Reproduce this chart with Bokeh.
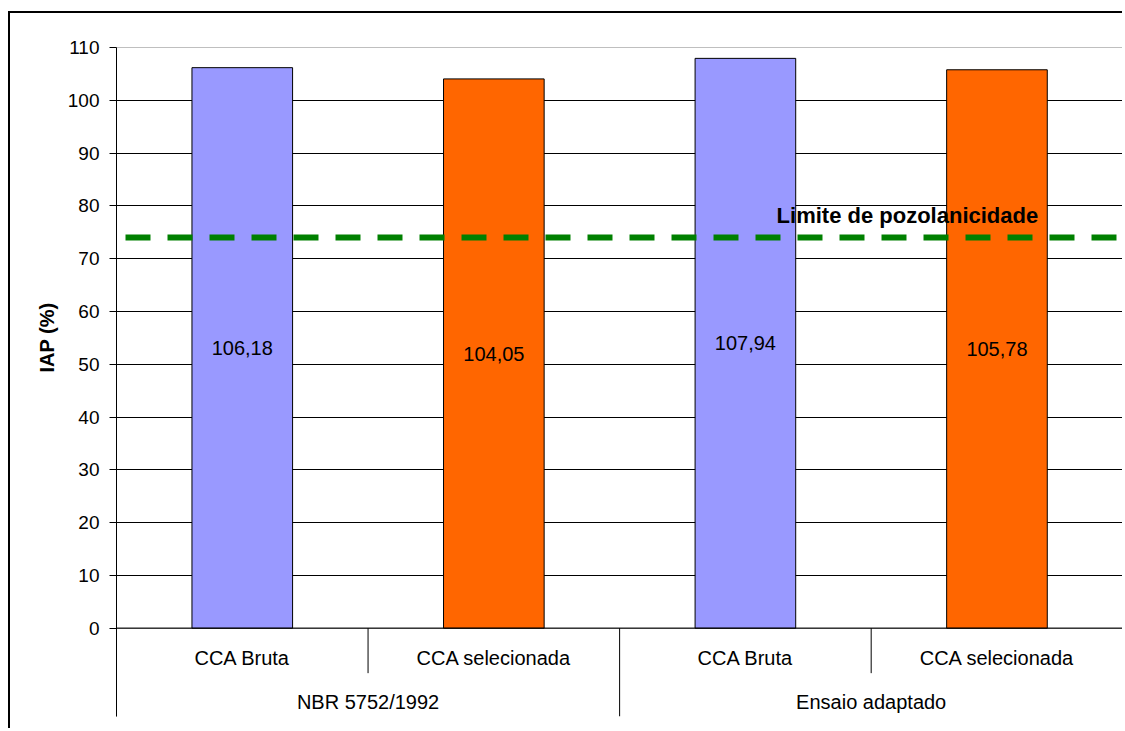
import numpy as np
from bokeh.plotting import figure
from bokeh.models import Range1d, FixedTicker, Span, Label, ColumnDataSource, Title
from bokeh.core.properties import value
from bokeh.embed import file_html
from bokeh.resources import INLINE

# ---- data ----
groups = ["NBR 5752/1992", "Ensaio adaptado"]
subcats = ["CCA Bruta", "CCA selecionada"]
iap_values = [106.18, 104.05, 107.94, 105.78]
bar_colors = ["#9999FF", "#FF6600", "#9999FF", "#FF6600"]
limit_value = 74
limit_text = "Limite de pozolanicidade"
y_ticks = list(range(0, 111, 10))
y_label = "IAP (%)"

FONT = "Liberation Sans"
n = len(iap_values)
centers = np.arange(n) + 0.5
labels = [f"{v:.2f}".replace(".", ",") for v in iap_values]
cat_names = [s for g in groups for s in subcats]

src = ColumnDataSource(dict(x=centers, top=iap_values, mid=[v / 2 for v in iap_values],
                            label=labels, color=bar_colors))

y_min = -16.73
p = figure(width=1114, height=717, x_range=Range1d(0, n + 0.003), y_range=Range1d(y_min, y_ticks[-1]),
           x_axis_location=None, toolbar_location=None, output_backend="svg",
           min_border_left=106, min_border_right=1, min_border_top=34, min_border_bottom=14)
# outer chart border (top and left edges; the others fall outside the window)
p.styles = {"border-top": "2px solid black", "border-left": "2px solid black",
            "margin-top": "11px", "margin-left": "8px"}
p.outline_line_color = None
p.background_fill_color = "white"
p.border_fill_color = "white"

# y axis
p.yaxis.ticker = FixedTicker(ticks=y_ticks)
p.yaxis.major_label_text_font = FONT
p.yaxis.major_label_text_font_size = "19px"
p.yaxis.major_label_text_color = "black"
p.yaxis.major_label_standoff = 10
p.yaxis.major_tick_out = 7
p.yaxis.major_tick_in = 0
p.yaxis.minor_tick_line_color = None
p.yaxis.axis_line_color = "black"
p.yaxis.major_tick_line_color = "black"

# y axis title, centred on the 0-110 plot area
p.add_layout(Title(text=y_label, align="right", offset=255, text_font=FONT,
                   text_font_size="20px", text_font_style="bold", text_color="black",
                   standoff=14), "left")

# grid
p.xgrid.visible = False
p.ygrid.ticker = FixedTicker(ticks=y_ticks[1:-1])
p.ygrid.grid_line_color = "black"
p.ygrid.grid_line_width = 1

# plot-area border (gray)
p.quad(left=[0], right=[n], bottom=[0], top=[y_ticks[-1]], fill_color=None,
       line_color="#808080", line_width=1)

# bars
p.vbar(x="x", top="top", bottom=0, width=0.4, fill_color="color", line_color="black",
       line_width=1, source=src)

# value labels
p.text(x="x", y="mid", text="label", source=src, text_font=value(FONT),
       text_font_size=value("20px"), text_align="center", text_baseline="middle",
       text_color="black")

# category separators & labels below baseline
bounds = np.arange(n + 1)
long_sep = [b for b in bounds if b % len(subcats) == 0]
short_sep = [b for b in bounds if b % len(subcats) != 0]
p.segment(x0=long_sep, y0=[0] * len(long_sep), x1=long_sep, y1=[y_min] * len(long_sep),
          line_color="black", line_width=1)
p.segment(x0=short_sep, y0=[0] * len(short_sep), x1=short_sep, y1=[-8.52] * len(short_sep),
          line_color="black", line_width=1)
p.text(x=centers, y=[-5.74] * n, text=cat_names, text_font=value(FONT),
       text_font_size=value("20px"), text_align="center", text_baseline="middle",
       text_color="black")
group_centers = [len(subcats) * (i + 0.5) for i in range(len(groups))]
p.text(x=group_centers, y=[-13.89] * len(groups), text=groups, text_font=value(FONT),
       text_font_size=value("20px"), text_align="center", text_baseline="middle",
       text_color="black")

# baseline
p.add_layout(Span(location=0, dimension="width", line_color="black", line_width=1))

# limit line
p.add_layout(Span(location=limit_value, dimension="width", line_color="#008000",
                  line_width=6, line_dash="25 17", line_dash_offset=33))
p.add_layout(Label(x=3.144, y=78.2, text=limit_text, text_font=FONT, text_font_size="22px",
                   text_font_style="bold", text_align="center", text_baseline="middle",
                   text_color="black"))

open("out.html", "w").write(file_html(p, INLINE))
